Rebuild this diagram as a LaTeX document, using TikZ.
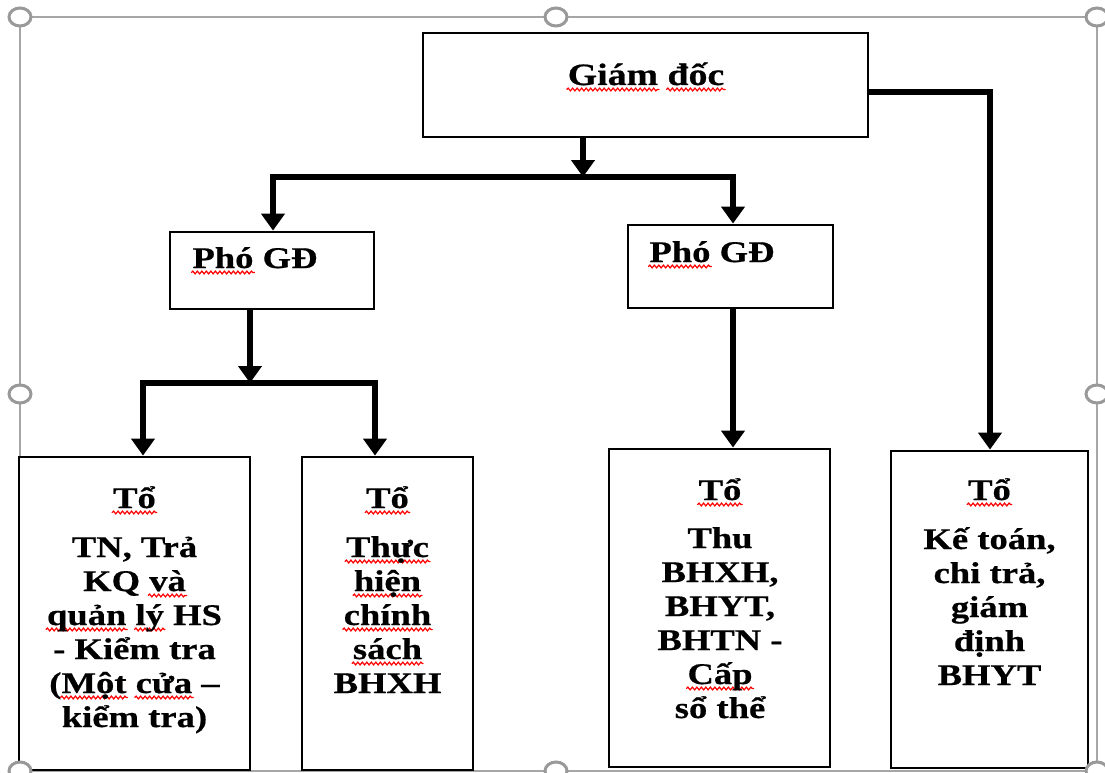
\documentclass[tikz,border=0pt]{standalone}
\usepackage{fontspec}
\setmainfont{Liberation Serif}[FakeStretch=1.22, BoldFeatures={FakeBold=0.6}]
\usetikzlibrary{arrows.meta,decorations.pathmorphing,shapes.geometric}
\newlength\sqw
\newcommand\sq[1]{\settowidth\sqw{#1}\rlap{\tikz[overlay,x=1pt,y=1pt]\draw[red,line width=1.2pt,line cap=round,decorate,decoration={snake,amplitude=1.4pt,segment length=4.5pt}] (-1,-4.5) -- (\sqw+1pt,-4.5);}#1}
\tikzset{
  box/.style={draw, line width=2.8pt, inner sep=0pt, fill=white},
  txt/.style={inner sep=0pt, font=\fontsize{30}{34}\selectfont\bfseries, anchor=base},
  conn/.style={line width=5.5pt, line join=miter},
  tip/.style={-{Triangle[width=23pt,length=17pt]}},
  tips/.style={{Triangle[width=23pt,length=17pt]}-{Triangle[width=23pt,length=17pt]}},
  frameline/.style={draw=black!35, line width=1.5pt},
  handle/.style={ellipse, draw=black!40, line width=3pt, fill=white, minimum width=22pt, minimum height=18pt, inner sep=0pt},
}
\begin{document}
\begin{tikzpicture}[x=1pt,y=-1pt]
\useasboundingbox (0,0) rectangle (1105,773);
\clip (0,0) rectangle (1105,773);
\fill[white] (0,0) rectangle (1105,773);
% selection frame
\draw[frameline] (20,17) rectangle (1097,771);

% boxes
\node[box, minimum width=445pt, minimum height=104pt] (gd) at (645.5,85) {};
\node[box, minimum width=204pt, minimum height=77pt] (p1) at (272,270.5) {};
\node[box, minimum width=205pt, minimum height=83pt] (p2) at (730.5,266.5) {};
\node[box, minimum width=231pt, minimum height=313pt] (b1) at (134.5,613.5) {};
\node[box, minimum width=171pt, minimum height=313pt] (b2) at (387.5,613.5) {};
\node[box, minimum width=221pt, minimum height=318pt] (b3) at (719.5,608) {};
\node[box, minimum width=197pt, minimum height=317pt] (b4) at (989.5,609.5) {};

% texts
\node[txt, font=\fontsize{31}{34}\selectfont\bfseries] (tgd) at (646,85) {\sq{Giám} \sq{đốc}};
\node[txt] (tp1) at (255,268) {\sq{Phó} GĐ};
\node[txt] (tp2) at (712,262) {\sq{Phó} GĐ};
\node[txt] (tb1) at (134.5,508) {\begin{tabular}[t]{@{}c@{}}\sq{Tổ}\\[15pt]
TN, Trả\\ KQ \sq{và}\\ \sq{quản} \sq{lý} HS\\ - Kiểm tra\\ (\sq{Một} \sq{cửa} –\\ kiểm tra)\end{tabular}};
\node[txt] (tb2) at (387.5,508) {\begin{tabular}[t]{@{}c@{}}\sq{Tổ}\\[15pt]
\sq{Thực}\\ \sq{hiện}\\ \sq{chính}\\ \sq{sách}\\ BHXH\end{tabular}};
\node[txt] (tb3) at (720,500) {\begin{tabular}[t]{@{}c@{}}\sq{Tổ}\\[14pt]
Thu\\ BHXH,\\ BHYT,\\ BHTN -\\ \sq{Cấp}\\ sổ thể\end{tabular}};
\node[txt] (tb4) at (989.5,500) {\begin{tabular}[t]{@{}c@{}}\sq{Tổ}\\[15pt]
Kế toán,\\ chi trả,\\ giám\\ định\\ BHYT\end{tabular}};

% connectors
\coordinate (bus1) at (583,177);
\coordinate (bl1) at (273,177);
\coordinate (br1) at (733,177);
\draw[conn, tip] (gd.south -| bus1) -- (bus1);
\draw[conn, tips] (p1.north -| bl1) -- (bl1) -- (br1) -- (p2.north -| br1);

\coordinate (r1) at (990,92);
\draw[conn, tip] (gd.east |- r1) -- (r1) -- (b4.north -| r1);

\coordinate (bus2) at (250,383);
\coordinate (bl2) at (143,383);
\coordinate (br2) at (375,383);
\draw[conn, tip] (p1.south -| bus2) -- (bus2);
\draw[conn, tips] (b1.north -| bl2) -- (bl2) -- (br2) -- (b2.north -| br2);

\coordinate (c3) at (733,400);
\draw[conn, tip] (p2.south -| c3) -- (b3.north -| c3);

% selection handles
\node[handle] (h1) at (20,17) {};
\node[handle] (h2) at (556,17) {};
\node[handle] (h3) at (1097,17) {};
\node[handle] (h4) at (20,394) {};
\node[handle] (h5) at (1097,394) {};
\node[handle] (h6) at (20,771) {};
\node[handle] (h7) at (556,771) {};
\node[handle] (h8) at (1097,771) {};
\end{tikzpicture}
\end{document}
